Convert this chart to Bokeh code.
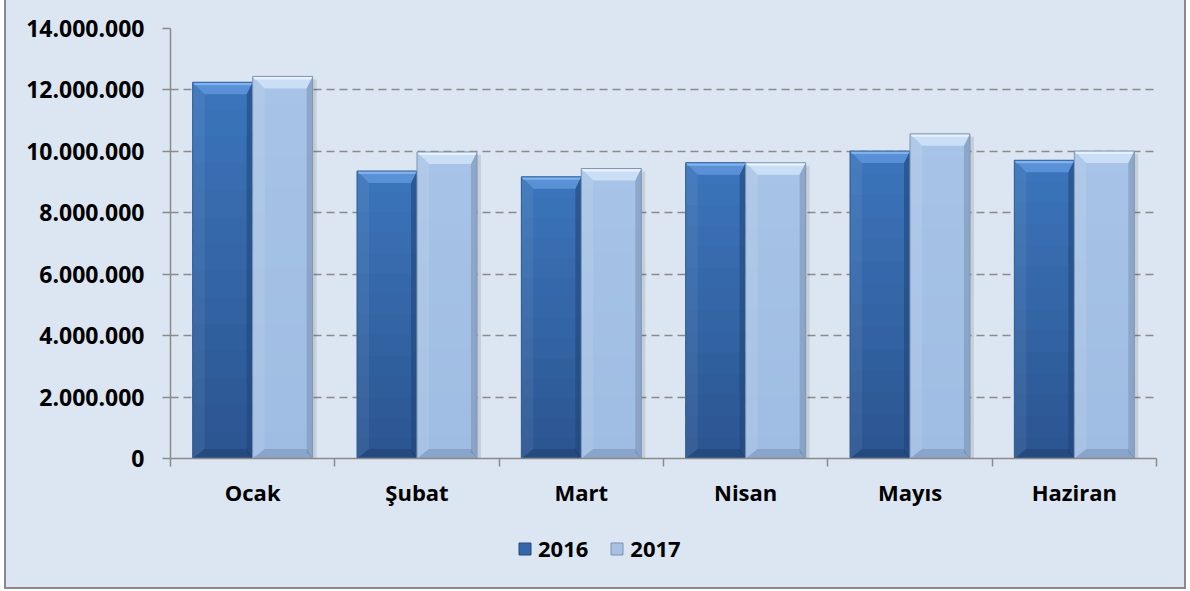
from bokeh.plotting import figure
from bokeh.layouts import column
from bokeh.models import ColumnDataSource, FixedTicker, Range1d, Legend, LegendItem
from bokeh.embed import file_html
from bokeh.resources import INLINE

# ---------------- data ----------------
months = ["Ocak", "Şubat", "Mart", "Nisan", "Mayıs", "Haziran"]
series_names = ["2016", "2017"]
values_2016 = [12250000, 9360000, 9170000, 9630000, 10010000, 9710000]
values_2017 = [12440000, 9980000, 9440000, 9630000, 10570000, 10010000]
y_tick_values = [0, 2000000, 4000000, 6000000, 8000000, 10000000, 12000000, 14000000]
y_tick_labels = ["0", "2.000.000", "4.000.000", "6.000.000", "8.000.000",
                 "10.000.000", "12.000.000", "14.000.000"]

# ---------------- style ----------------
BG = "#dce6f2"
GRAY = "#8a8a8a"
FONT = "Open Sans"
FSIZE = "22px"
BAR_W = 0.365
N_BANDS = 14
PX_X = 6.0 / 986.0          # data units per screen px (x)
PX_Y = 14000000.0 / 430.0   # data units per screen px (y)
BEV = 12

def hex2rgb(h):
    h = h.lstrip("#")
    return tuple(int(h[i:i + 2], 16) for i in (0, 2, 4))

def lerp(c1, c2, t):
    a, b = hex2rgb(c1), hex2rgb(c2)
    return "#%02x%02x%02x" % tuple(int(round(a[i] + (b[i] - a[i]) * t)) for i in range(3))

p = figure(width=1178, height=510, x_range=Range1d(0, 6), y_range=Range1d(0, 14000000),
           output_backend="svg", toolbar_location=None,
           min_border_left=164, min_border_right=28, min_border_top=28, min_border_bottom=52,
           background_fill_color=BG, border_fill_color=BG, outline_line_color=None)

def draw_series(values, start_offset, c_bottom, c_top, bevel_col, hi_col, left_alpha,
                right_col, bottom_col, outline_col):
    n = len(values)
    x0 = [i + start_offset for i in range(n)]
    x1 = [x + BAR_W for x in x0]
    # shadow
    p.quad(left=x1, right=[x + 4 * PX_X for x in x1],
           bottom=[0] * n, top=[v - 3 * PX_Y for v in values],
           fill_color="#000000", fill_alpha=0.10, line_color=None)
    # gradient body
    L, R, B, T, C = [], [], [], [], []
    for i, v in enumerate(values):
        for k in range(N_BANDS):
            L.append(x0[i]); R.append(x1[i])
            B.append(v * k / N_BANDS)
            T.append(min(v, v * (k + 1.6) / N_BANDS))
            C.append(lerp(c_bottom, c_top, (k + 0.5) / N_BANDS))
    p.quad(source=ColumnDataSource(dict(left=L, right=R, bottom=B, top=T, color=C)),
           left="left", right="right", bottom="bottom", top="top",
           fill_color="color", line_color=None)
    bx, by = BEV * PX_X, BEV * PX_Y
    rx = 6 * PX_X
    # left bevel
    p.patches(xs=[[x0[i], x0[i], x0[i] + bx, x0[i] + bx] for i in range(n)],
              ys=[[0, values[i], values[i] - by, by * 0.8] for i in range(n)],
              fill_color="#ffffff", fill_alpha=left_alpha, line_color=None)
    # right bevel
    p.patches(xs=[[x1[i], x1[i], x1[i] - rx, x1[i] - rx] for i in range(n)],
              ys=[[0, values[i], values[i] - by * 0.5, by * 0.5] for i in range(n)],
              fill_color=right_col, fill_alpha=0.55, line_color=None)
    # bottom bevel
    p.patches(xs=[[x0[i], x1[i], x1[i] - rx, x0[i] + bx] for i in range(n)],
              ys=[[0, 0, by * 0.8, by * 0.8] for i in range(n)],
              fill_color=bottom_col, fill_alpha=0.25, line_color=None)
    # top bevel
    p.patches(xs=[[x0[i], x1[i], x1[i] - rx, x0[i] + bx] for i in range(n)],
              ys=[[values[i], values[i], values[i] - by, values[i] - by] for i in range(n)],
              fill_color=bevel_col, line_color=None)
    # highlight at top edge
    p.patches(xs=[[x0[i], x1[i], x1[i] - 2 * PX_X, x0[i] + 2 * PX_X] for i in range(n)],
              ys=[[values[i], values[i], values[i] - 3 * PX_Y, values[i] - 3 * PX_Y] for i in range(n)],
              fill_color=hi_col, line_color=None)
    # outline
    p.quad(left=x0, right=x1, bottom=[0] * n, top=values,
           fill_color=None, line_color=outline_col, line_width=1)

draw_series(values_2016, 0.5 - BAR_W, "#2b5590", "#3c75bc", "#5a90d6", "#7fb2ee",
            0.06, "#1f4476", "#10284a", "#2c5a94")
draw_series(values_2017, 0.5, "#9fbce2", "#a7c3e7", "#cadff6", "#e6f2fd",
            0.10, "#7890b0", "#4a6080", "#7d93b2")

# ---------------- axes ----------------
xa = p.xaxis[0]
xa.ticker = FixedTicker(ticks=[i + 0.5 for i in range(len(months))],
                        minor_ticks=list(range(len(months) + 1)))
xa.major_label_overrides = {i + 0.5: m for i, m in enumerate(months)}
xa.major_tick_out = 0
xa.major_tick_in = 0
xa.minor_tick_out = 8
xa.minor_tick_in = 0
xa.minor_tick_line_color = GRAY
xa.minor_tick_line_width = 1.5
xa.axis_line_color = GRAY
xa.axis_line_width = 1.5
xa.major_label_standoff = 10
xa.major_label_text_font = FONT
xa.major_label_text_font_style = "bold"
xa.major_label_text_font_size = FSIZE
xa.major_label_text_color = "#000000"

ya = p.yaxis[0]
ya.ticker = FixedTicker(ticks=y_tick_values, minor_ticks=[])
ya.major_label_overrides = {v: s for v, s in zip(y_tick_values, y_tick_labels)}
ya.major_tick_out = 8
ya.major_tick_in = 0
ya.major_tick_line_color = GRAY
ya.major_tick_line_width = 1.5
ya.axis_line_color = GRAY
ya.axis_line_width = 1.5
ya.major_label_standoff = 18
ya.major_label_text_font = FONT
ya.major_label_text_font_style = "bold"
ya.major_label_text_font_size = "23px"
ya.major_label_text_color = "#000000"

p.xgrid.visible = False
p.ygrid.ticker = FixedTicker(ticks=y_tick_values[1:])
p.ygrid.grid_line_color = GRAY
p.ygrid.grid_line_width = 1.5
p.ygrid.grid_line_dash = "8 5"

# ---------------- legend (own strip below the chart) ----------------
lg = figure(width=1178, height=77, x_range=Range1d(0, 1), y_range=Range1d(0, 1),
            output_backend="svg", toolbar_location=None, x_axis_type=None, y_axis_type=None,
            min_border_left=164, min_border_right=28, min_border_top=0, min_border_bottom=0,
            background_fill_color=BG, border_fill_color=BG, outline_line_color=None)
lg.xgrid.visible = False
lg.ygrid.visible = False
# swatch renderers for the legend keys (their single row lies outside the strip's view)
r16 = lg.quad(left=[2], right=[3], bottom=[2], top=[3], fill_color="#3566a8", line_color="#24497c")
r17 = lg.quad(left=[2], right=[3], bottom=[2], top=[3], fill_color="#a9c1e0", line_color="#7a8fae")
legend = Legend(items=[LegendItem(label=series_names[0], renderers=[r16]),
                       LegendItem(label=series_names[1], renderers=[r17])],
                orientation="horizontal", location=(347, 24),
                glyph_width=15, glyph_height=15, label_standoff=6, spacing=21,
                padding=0, margin=0, border_line_color=None, background_fill_alpha=0,
                label_text_font=FONT, label_text_font_style="bold", label_text_font_size=FSIZE,
                label_text_color="#000000")
lg.add_layout(legend, "center")

layout = column(p, lg, spacing=0)
layout.styles = {"border-left": "2px solid #8a8a8a", "border-right": "2px solid #8a8a8a",
                 "border-bottom": "2px solid #8a8a8a", "margin-left": "4px",
                 "background-color": BG}

open("out.html", "w").write(file_html(layout, INLINE))
